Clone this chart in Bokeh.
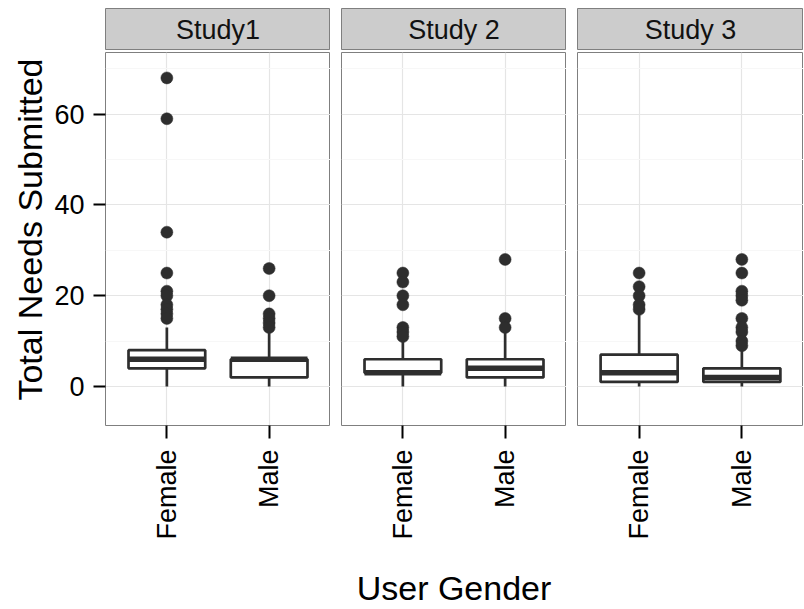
import math
from bokeh.plotting import figure
from bokeh.layouts import gridplot
from bokeh.models import Range1d, FactorRange, FixedTicker, ColumnDataSource, Title
from bokeh.core.properties import value
from bokeh.embed import file_html
from bokeh.resources import INLINE

# ---------------- data ----------------
studies = ["Study1", "Study 2", "Study 3"]
genders = ["Female", "Male"]
q1 = [[4, 2], [3, 2], [1, 1]]
medians = [[6, 6], [3, 4], [3, 2]]
q3 = [[8, 6], [6, 6], [7, 4]]
whisker_low = [[0, 0], [0, 0], [0, 0]]
whisker_high = [[13, 12], [10, 12], [16, 8]]
outliers_study1_female = [68, 59, 34, 25, 21, 20, 18, 17, 16, 15]
outliers_study1_male = [26, 20, 16, 15, 14, 13]
outliers_study2_female = [25, 23, 20, 18, 13, 12, 11]
outliers_study2_male = [28, 15, 13]
outliers_study3_female = [25, 22, 20, 18, 17]
outliers_study3_male = [28, 25, 21, 20, 19, 15, 13, 12, 10, 9]
y_ticks = [0, 20, 40, 60]
y_minor_ticks = [10, 30, 50, 70]
x_title = "User Gender"
y_title = "Total Needs Submitted"

outliers = [
    [outliers_study1_female, outliers_study1_male],
    [outliers_study2_female, outliers_study2_male],
    [outliers_study3_female, outliers_study3_male],
]

# ---------------- style ----------------
FONT = "Liberation Sans"
DARK = "#2e2e2e"
BORDER = "#7f7f7f"
STRIP_FILL = "#cccccc"
GRID_MAJOR = "#e5e5e5"
GRID_MINOR = "#f7f7f7"
PANEL_W = 225
GAP = 11
LEFT = 105

strips = []
panels = []
for i, study in enumerate(studies):
    first = i == 0
    lb = LEFT if first else GAP
    pw = PANEL_W + (1 if i == 2 else 0)
    w = lb + pw

    # strip header
    s = figure(width=w, height=50, x_range=Range1d(0, 1), y_range=Range1d(0, 1),
               output_backend="svg", toolbar_location=None,
               x_axis_location=None, y_axis_location=None,
               min_border_left=lb, min_border_right=0, min_border_top=8, min_border_bottom=0)
    s.background_fill_color = STRIP_FILL
    s.border_fill_color = "white"
    s.outline_line_color = BORDER
    s.outline_line_width = 1
    s.xgrid.grid_line_color = None
    s.ygrid.grid_line_color = None
    s.text(x=[0.5], y=[0.5], text=[study], text_font=value(FONT), text_font_size="27px",
           text_align="center", text_baseline="middle", text_color="#111111")
    strips.append(s)

    # panel
    p = figure(width=w, height=559,
               x_range=FactorRange(*genders, range_padding=0.1, range_padding_units="percent"),
               y_range=Range1d(-8.6, 73.6),
               output_backend="svg", toolbar_location=None,
               y_axis_location="left" if first else None,
               min_border_left=lb, min_border_right=0, min_border_top=2, min_border_bottom=183)
    p.background_fill_color = "white"
    p.border_fill_color = "white"
    p.outline_line_color = BORDER
    p.outline_line_width = 1

    p.ygrid.ticker = FixedTicker(ticks=y_ticks, minor_ticks=y_minor_ticks)
    p.ygrid.grid_line_color = GRID_MAJOR
    p.ygrid.grid_line_width = 1.2
    p.ygrid.minor_grid_line_color = GRID_MINOR
    p.ygrid.minor_grid_line_width = 1.2
    p.xgrid.grid_line_color = GRID_MAJOR
    p.xgrid.grid_line_width = 1.2

    xa = p.xaxis[0]
    xa.axis_line_color = None
    xa.major_tick_line_color = "black"
    xa.major_tick_line_width = 2
    xa.major_tick_out = 13
    xa.major_tick_in = 0
    xa.minor_tick_line_color = None
    xa.major_label_orientation = math.pi / 2
    xa.major_label_text_font = FONT
    xa.major_label_text_font_size = "27px"
    xa.major_label_text_color = "black"
    xa.major_label_standoff = 11
    if i == 1:
        xa.axis_label = x_title
        xa.axis_label_text_font = FONT
        xa.axis_label_text_font_size = "34px"
        xa.axis_label_text_font_style = "normal"
        xa.axis_label_text_color = "black"
        xa.axis_label_standoff = 26

    if first:
        ya = p.yaxis[0]
        ya.ticker = FixedTicker(ticks=y_ticks)
        ya.axis_line_color = None
        ya.major_tick_line_color = "black"
        ya.major_tick_line_width = 2
        ya.major_tick_out = 12
        ya.major_tick_in = 0
        ya.minor_tick_line_color = None
        ya.major_label_text_font = FONT
        ya.major_label_text_font_size = "27px"
        ya.major_label_text_color = "black"
        ya.major_label_standoff = 9
        p.add_layout(Title(text=y_title, align="right", offset=6, standoff=6,
                           text_font=FONT, text_font_size="34px",
                           text_font_style="normal", text_color="black"), "left")

    # outliers
    ox, oy = [], []
    for j, g in enumerate(genders):
        for v in outliers[i][j]:
            ox.append(g)
            oy.append(v)
    p.scatter(x=ox, y=oy, size=12, fill_color=DARK, line_color=DARK, line_width=0.5)

    # whiskers
    wsrc = ColumnDataSource(dict(
        x=genders + genders,
        y0=[whisker_low[i][0], whisker_low[i][1], q3[i][0], q3[i][1]],
        y1=[q1[i][0], q1[i][1], whisker_high[i][0], whisker_high[i][1]],
    ))
    p.segment(x0="x", y0="y0", x1="x", y1="y1", source=wsrc, line_color=DARK, line_width=2.7)

    # boxes
    p.vbar(x=genders, width=0.75, bottom=q1[i], top=q3[i], fill_color="white",
           line_color=DARK, line_width=2.7)

    # medians
    msrc = ColumnDataSource(dict(
        x0=[(g, -0.375) for g in genders],
        x1=[(g, 0.375) for g in genders],
        y=medians[i],
    ))
    p.segment(x0="x0", y0="y", x1="x1", y1="y", source=msrc, line_color=DARK, line_width=5.5)

    panels.append(p)

layout = gridplot([strips, panels], toolbar_location=None)

open("out.html", "w").write(file_html(layout, INLINE))
